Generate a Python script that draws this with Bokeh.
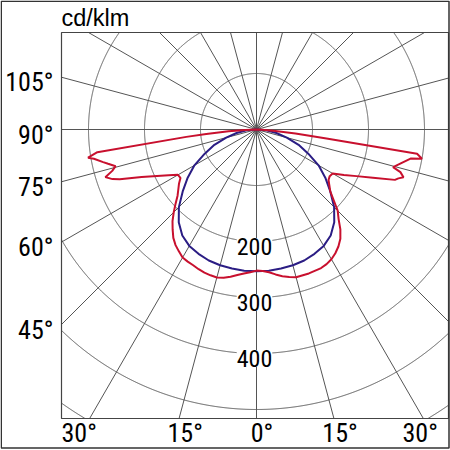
import numpy as np
from bokeh.plotting import figure
from bokeh.models import Range1d, Label
from bokeh.embed import file_html
from bokeh.resources import INLINE

# ---------------- data (cd/klm versus angle from nadir, degrees) ----------------
unit_label = "cd/klm"

blue_angles = [0, 5, 10, 15, 20, 25, 30, 35, 40, 45, 50, 55, 60, 65, 70, 75, 80, 85, 90]
blue_cdklm = [253, 253, 252, 251, 249, 245, 240, 231, 216, 196, 172, 150, 128, 102, 80, 56, 36, 18, 0]

red_left_angles = [0, 2.5, 5, 7.5, 10, 12.5, 15, 17.5, 20, 22.5, 25, 27.5, 30, 32.5, 35,
                   37.5, 40, 42.5, 45, 47.5, 50, 52.5, 55, 57.5, 60, 62.5, 65, 67.5, 70,
                   71, 72.5, 74, 75.4, 77, 78, 79.8, 80.5, 81.9, 84, 85, 86.5, 88, 90]
red_left_cdklm = [252, 255, 258, 262, 267, 271, 273.5, 273, 272, 270, 267.5, 266, 264, 258, 252,
                  244, 233, 222, 209, 196, 184, 176, 169, 161, 162, 177, 196, 222, 260,
                  272, 283, 268, 260, 272, 280, 295, 305, 287, 126, 90, 50, 20, 0]

red_right_angles = [0, 2.5, 5, 7.5, 10, 12.5, 15, 20, 25, 27.5, 30, 32.5, 35, 37.5, 40,
                    42.5, 45, 47.5, 50, 52.5, 55, 57.5, 60, 62.5, 65, 67.5, 70, 71, 72,
                    73.5, 74.6, 77.2, 79.3, 80, 81.4, 82.7, 84, 86, 88, 90]
red_right_cdklm = [252, 253, 256, 261, 266, 270, 273, 273.5, 273, 271, 267.5, 262, 255, 246, 233,
                   217, 205, 187, 172, 164, 157, 155, 157, 176, 197, 225, 263, 268, 276,
                   268, 253, 267, 280, 300, 290, 126, 70, 30, 10, 0]

grid_radii = [100, 200, 300, 400, 500, 600]
grid_ray_angles = list(range(0, 360, 15))

radius_label_values = [200, 300, 400]
radius_labels = ["200", "300", "400"]

side_tick_angles = [105, 90, 75, 60, 45]
side_tick_labels = ["105°", "90°", "75°", "60°", "45°"]

bottom_tick_angles = [-30, -15, 0, 15, 30]
bottom_tick_labels = ["30°", "15°", "0°", "15°", "30°"]

# ---------------- layout (canvas pixels) ----------------
S = 0.56            # pixels per cd/klm
CX, CY = 256, 129   # pole position on the canvas
FL, FR, FT, FB = 61, 448, 32, 418   # diagram box edges
W = H = 450


def px2x(px):
    return (px - CX) / S


def py2y(py):
    return (CY - py) / S


p = figure(width=W, height=H, output_backend="svg", toolbar_location=None,
           x_range=Range1d(px2x(0), px2x(W)), y_range=Range1d(py2y(H), py2y(0)),
           x_axis_location=None, y_axis_location=None, min_border=0)
p.xgrid.visible = False
p.ygrid.visible = False
p.outline_line_color = None
p.background_fill_color = "white"
p.border_fill_color = "white"

x0, x1, y0, y1 = px2x(FL), px2x(FR), py2y(FB), py2y(FT)
GRID = "#555555"

# polar grid, clipped to the diagram box
t = np.linspace(0, 2 * np.pi, 2881)
for r in grid_radii:
    cx, cy = r * np.cos(t), r * np.sin(t)
    out = (cx < x0) | (cx > x1) | (cy < y0) | (cy > y1)
    cx[out] = np.nan
    cy[out] = np.nan
    p.line(cx, cy, line_color=GRID, line_width=1)

rx0, ry0, rx1, ry1 = [], [], [], []
for a in grid_ray_angles:
    c, s = np.cos(np.deg2rad(a)), np.sin(np.deg2rad(a))
    ts = []
    if c > 1e-9:
        ts.append(x1 / c)
    if c < -1e-9:
        ts.append(x0 / c)
    if s > 1e-9:
        ts.append(y1 / s)
    if s < -1e-9:
        ts.append(y0 / s)
    L = min(ts)
    rx0.append(0); ry0.append(0); rx1.append(L * c); ry1.append(L * s)
p.segment(x0=rx0, y0=ry0, x1=rx1, y1=ry1, line_color=GRID, line_width=1)

# diagram box and outer border
p.quad(left=[x0], right=[x1], bottom=[y0], top=[y1], fill_color=None,
       line_color="#444444", line_width=1.2)
p.quad(left=[px2x(0.75)], right=[px2x(448.5)], bottom=[py2y(447.5)], top=[py2y(0.75)],
       fill_color=None, line_color="#333333", line_width=1.5)


def polar_curve(lang, lval, rang, rval):
    la = np.deg2rad(np.array(lang, float))[::-1]
    lv = np.array(lval, float)[::-1]
    ra = np.deg2rad(np.array(rang, float))
    rv = np.array(rval, float)
    xs = np.concatenate([-lv * np.sin(la), rv * np.sin(ra)])
    ys = np.concatenate([-lv * np.cos(la), -rv * np.cos(ra)])
    return xs, ys


bx, by = polar_curve(blue_angles, blue_cdklm, blue_angles, blue_cdklm)
rx, ry = polar_curve(red_left_angles, red_left_cdklm, red_right_angles, red_right_cdklm)
p.line(bx, by, line_color="#2b1d84", line_width=2)
p.line(rx, ry, line_color="#c8102e", line_width=2)

NARROW = "Roboto Condensed, DejaVu Sans Condensed, Liberation Sans Narrow, Roboto"

# radius labels on the nadir axis
for v, tx in zip(radius_label_values, radius_labels):
    p.add_layout(Label(x=px2x(CX - 2), y=-v - 5 / S, text=tx, text_align="center",
                       text_baseline="middle", text_font=NARROW, text_font_size="24px",
                       text_color="black", background_fill_color="white"))

# side angle labels, at the height where each ray meets the left box edge
for a, tx in zip(side_tick_angles, side_tick_labels):
    yint = CY + (CX - FL) / np.tan(np.deg2rad(a)) if a != 90 else CY
    p.add_layout(Label(x=px2x(FL - 8), y=py2y(yint + 5), text=tx, text_align="right",
                       text_baseline="middle", text_font=NARROW, text_font_size="26px",
                       text_color="black"))

# bottom angle labels: digits centred where each ray meets the bottom box edge,
# kept inside the box
for a, tx in zip(bottom_tick_angles, bottom_tick_labels):
    hit = CX + (FB - CY) * np.tan(np.deg2rad(a))
    ndig = len(tx) - 1
    left = hit - 5.8 * ndig
    if left - FL < 20:
        left = FL
    left = min(left, 437 - 35)
    p.add_layout(Label(x=px2x(left), y=py2y(432.5), text=tx, text_align="left",
                       text_baseline="middle", text_font=NARROW, text_font_size="26px",
                       text_color="black"))

p.add_layout(Label(x=px2x(FL), y=py2y(17), text=unit_label, text_align="left",
                   text_baseline="middle", text_font="Liberation Sans",
                   text_font_size="23.5px", text_color="black"))

open("out.html", "w").write(file_html(p, INLINE))
